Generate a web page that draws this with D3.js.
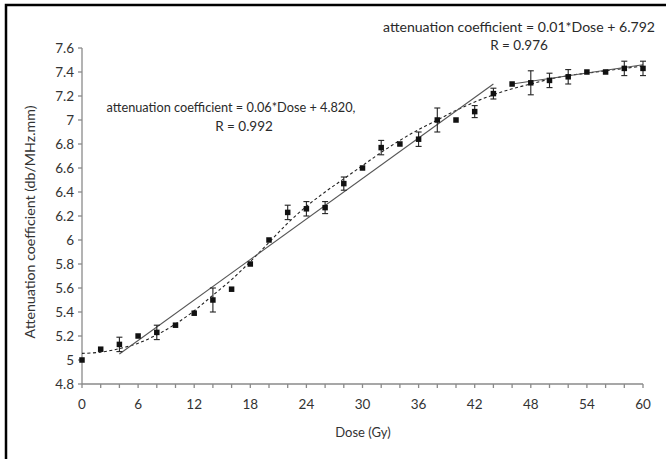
<!DOCTYPE html>
<html><head><meta charset="utf-8">
<script src="https://cdn.jsdelivr.net/npm/d3@7"></script>
<style>body{margin:0;background:#fff}svg{display:block}</style>
</head><body>
<script>
// ---- data ----
const dose   = [0,2,4,6,8,10,12,14,16,18,20,22,24,26,28,30,32,34,36,38,40,42,44,46,48,50,52,54,56,58,60];
const atten  = [5.00,5.09,5.13,5.20,5.23,5.29,5.39,5.50,5.59,5.80,6.00,6.23,6.26,6.27,6.47,6.60,6.77,6.80,6.84,7.00,7.00,7.07,7.22,7.30,7.31,7.33,7.36,7.40,7.40,7.43,7.43];
const errBar = [0,0,0.06,0,0.06,0,0,0.10,0,0,0,0.06,0.06,0.05,0.055,0,0.06,0,0.06,0.10,0,0.05,0.045,0,0.10,0.06,0.06,0,0,0.06,0.06];
// polynomial trend (dashed)
const trendDose = [0,2,4,6,8,10,12,14,16,18,20,22,24,26,28,30,32,34,36,38,40,42,44,46,48,50,52,54,56,58,60];
const trendVal  = [5.055,5.065,5.095,5.14,5.21,5.30,5.41,5.54,5.67,5.82,5.98,6.14,6.28,6.40,6.51,6.62,6.73,6.83,6.92,7.00,7.08,7.15,7.21,7.26,7.30,7.34,7.37,7.39,7.41,7.43,7.45];
// linear fits (solid)
const fit1 = [[4,5.05],[44,7.30]];
const fit2 = [[46,7.30],[60,7.46]];
const xTicks = [0,6,12,18,24,30,36,42,48,54,60];
const xMinor = d3.range(0,61,2);
const yTicks = [4.8,5,5.2,5.4,5.6,5.8,6,6.2,6.4,6.6,6.8,7,7.2,7.4,7.6];
const label1 = ["attenuation coefficient = 0.06*Dose + 4.820,", "R = 0.992"];
const label2 = ["attenuation coefficient = 0.01*Dose + 6.792", "R = 0.976"];
const xTitle = "Dose (Gy)";
const yTitle = "Attenuation coefficient (db/MHz.mm)";

// ---- drawing ----
const W = 666, H = 459;
const FONT = "Lato, 'Open Sans', sans-serif";
const svg = d3.select("body").append("svg").attr("width", W).attr("height", H)
  .style("font-family", FONT);

svg.append("rect").attr("x",6).attr("y",5).attr("width",W+10).attr("height",H+10)
  .attr("fill","#fff").attr("stroke","#000").attr("stroke-width",2.5);

const x = d3.scaleLinear().domain([0,60]).range([82,643]);
const y = d3.scaleLinear().domain([4.8,7.6]).range([384,48]);
const axisCol = "#8a8a8a", textCol = "#333";

// x axis
const gx = svg.append("g").attr("transform","translate(0,384)");
gx.append("line").attr("x1",x(0)).attr("x2",x(60)).attr("stroke",axisCol).attr("stroke-width",1.3);
gx.selectAll("line.t").data(xMinor).join("line").attr("class","t")
  .attr("x1",d=>x(d)).attr("x2",d=>x(d)).attr("y1",0).attr("y2",4)
  .attr("stroke",axisCol).attr("stroke-width",1.3);
gx.selectAll("text").data(xTicks).join("text")
  .attr("x",d=>x(d)).attr("y",25).attr("text-anchor","middle")
  .attr("font-size",13.5).attr("fill",textCol).text(d=>d);

// y axis
const gy = svg.append("g").attr("transform","translate(82,0)");
gy.append("line").attr("y1",y(4.8)).attr("y2",y(7.6)).attr("stroke",axisCol).attr("stroke-width",1.3);
gy.selectAll("line.t").data(yTicks).join("line").attr("class","t")
  .attr("x1",-4).attr("x2",0).attr("y1",d=>y(d)).attr("y2",d=>y(d))
  .attr("stroke",axisCol).attr("stroke-width",1.3);
gy.selectAll("text").data(yTicks).join("text")
  .attr("x",-8).attr("y",d=>y(d)+4.5).attr("text-anchor","end")
  .attr("font-size",13.5).attr("fill",textCol).text(d=>d3.format("~g")(d));

// titles
svg.append("text").attr("x",363).attr("y",437).attr("text-anchor","middle")
  .attr("font-size",13).attr("fill",textCol).text(xTitle);
svg.append("text").attr("transform","translate(35,222) rotate(-90)").attr("text-anchor","middle")
  .attr("font-size",13).attr("fill",textCol)
  .attr("textLength",233).attr("lengthAdjust","spacingAndGlyphs").text(yTitle);

// trend lines
const line = d3.line().x(d=>x(d[0])).y(d=>y(d[1]));
svg.append("path").datum(trendDose.map((d,i)=>[d,trendVal[i]]))
  .attr("d", line.curve(d3.curveCatmullRom)).attr("fill","none")
  .attr("stroke","#222").attr("stroke-width",1.1).attr("stroke-dasharray","3,2.5");
const sline = d3.line().x(d=>x(d[0])).y(d=>y(d[1]));
[fit1, fit2].forEach(f=>svg.append("path").datum(f).attr("d",sline)
  .attr("fill","none").attr("stroke","#555").attr("stroke-width",1.1));

// error bars
const pts = dose.map((d,i)=>({d, v:atten[i], e:errBar[i]}));
const eb = svg.append("g").attr("stroke","#222").attr("stroke-width",1.1);
pts.filter(p=>p.e>0).forEach(p=>{
  eb.append("line").attr("x1",x(p.d)).attr("x2",x(p.d)).attr("y1",y(p.v-p.e)).attr("y2",y(p.v+p.e));
  [p.v-p.e, p.v+p.e].forEach(v=>eb.append("line").attr("x1",x(p.d)-3).attr("x2",x(p.d)+3).attr("y1",y(v)).attr("y2",y(v)));
});
// markers
svg.append("g").selectAll("rect").data(pts).join("rect")
  .attr("x",p=>x(p.d)-2.75).attr("y",p=>y(p.v)-2.75).attr("width",5.5).attr("height",5.5)
  .attr("fill","#111");

// annotations
function ann(lines, cx1, y1, cx2, y2, w){
  svg.append("text").attr("x",cx1).attr("y",y1).attr("text-anchor","middle")
    .attr("font-size",13.5).attr("fill","#2a2a2a").attr("textLength",w).attr("lengthAdjust","spacingAndGlyphs").text(lines[0]);
  svg.append("text").attr("x",cx2).attr("y",y2).attr("text-anchor","middle")
    .attr("font-size",13.5).attr("fill","#2a2a2a").text(lines[1]);
}
ann(label1, 231, 112, 244, 131, 249);
ann(label2, 519, 32, 519, 50, 272);
</script>
</body></html>
